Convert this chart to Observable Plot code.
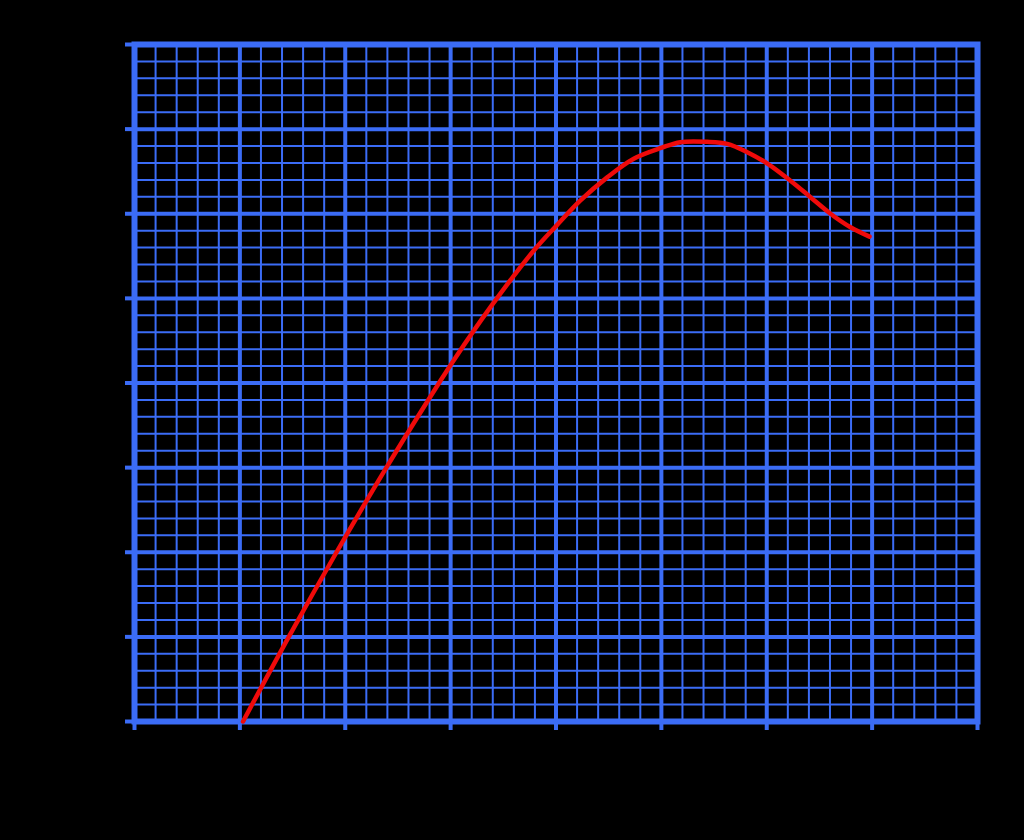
<!DOCTYPE html>
<html>
<head>
<meta charset="utf-8">
<script src="https://cdn.jsdelivr.net/npm/d3@7"></script>
<script src="https://cdn.jsdelivr.net/npm/@observablehq/plot@0.6"></script>
<style>
  html, body { margin: 0; padding: 0; background: #000; }
  #chart svg { display: block; }
</style>
</head>
<body>
<div id="chart"></div>
<script>
// Curve values (x, y)
const curveX = [1.03, 1.464, 1.917, 2.39, 2.89, 3.03, 3.378, 3.79, 4.005, 4.232, 4.486, 4.738, 5.004, 5.18, 5.435, 5.625, 5.815, 6.01, 6.225, 6.415, 6.605, 6.795, 6.975];
const curveY = [0, 1, 2, 3, 4, 4.27, 4.896, 5.566, 5.86, 6.157, 6.43, 6.65, 6.78, 6.846, 6.85, 6.826, 6.727, 6.59, 6.39, 6.196, 6.0, 5.84, 5.73];

// Grid tick values
const majorTicksX = [0, 1, 2, 3, 4, 5, 6, 7, 8];
const majorTicksY = [0, 1, 2, 3, 4, 5, 6, 7, 8];
const minorStep = 0.2;

const minorX = d3.range(0, 8 + 1e-9, minorStep).filter(v => Math.abs(v - Math.round(v)) > 1e-6);
const minorY = d3.range(0, 8 + 1e-9, minorStep).filter(v => Math.abs(v - Math.round(v)) > 1e-6);

const curve = curveX.map((x, i) => ({x, y: curveY[i]}));

const blue = "#3b6cf6";
const red = "#f00a0a";

const chart = Plot.plot({
  width: 1024,
  height: 840,
  marginLeft: 134,
  marginRight: 47,
  marginTop: 44,
  marginBottom: 119,
  style: {background: "#000"},
  x: {domain: [0, 8]},
  y: {domain: [0, 8]},
  marks: [
    Plot.ruleX(minorX, {stroke: blue, strokeWidth: 2}),
    Plot.ruleY(minorY, {stroke: blue, strokeWidth: 2}),
    Plot.ruleX(majorTicksX, {stroke: blue, strokeWidth: 4}),
    Plot.ruleY(majorTicksY, {stroke: blue, strokeWidth: 4}),
    Plot.frame({stroke: blue, strokeWidth: 6}),
    Plot.axisX(majorTicksX, {tickSize: 9, stroke: blue, strokeWidth: 4, fill: "none"}),
    Plot.axisY(majorTicksY, {tickSize: 9, stroke: blue, strokeWidth: 4, fill: "none"}),
    Plot.line(curve, {x: "x", y: "y", stroke: red, strokeWidth: 4.5, curve: "catmull-rom"})
  ]
});
document.getElementById("chart").appendChild(chart);
</script>
</body>
</html>
